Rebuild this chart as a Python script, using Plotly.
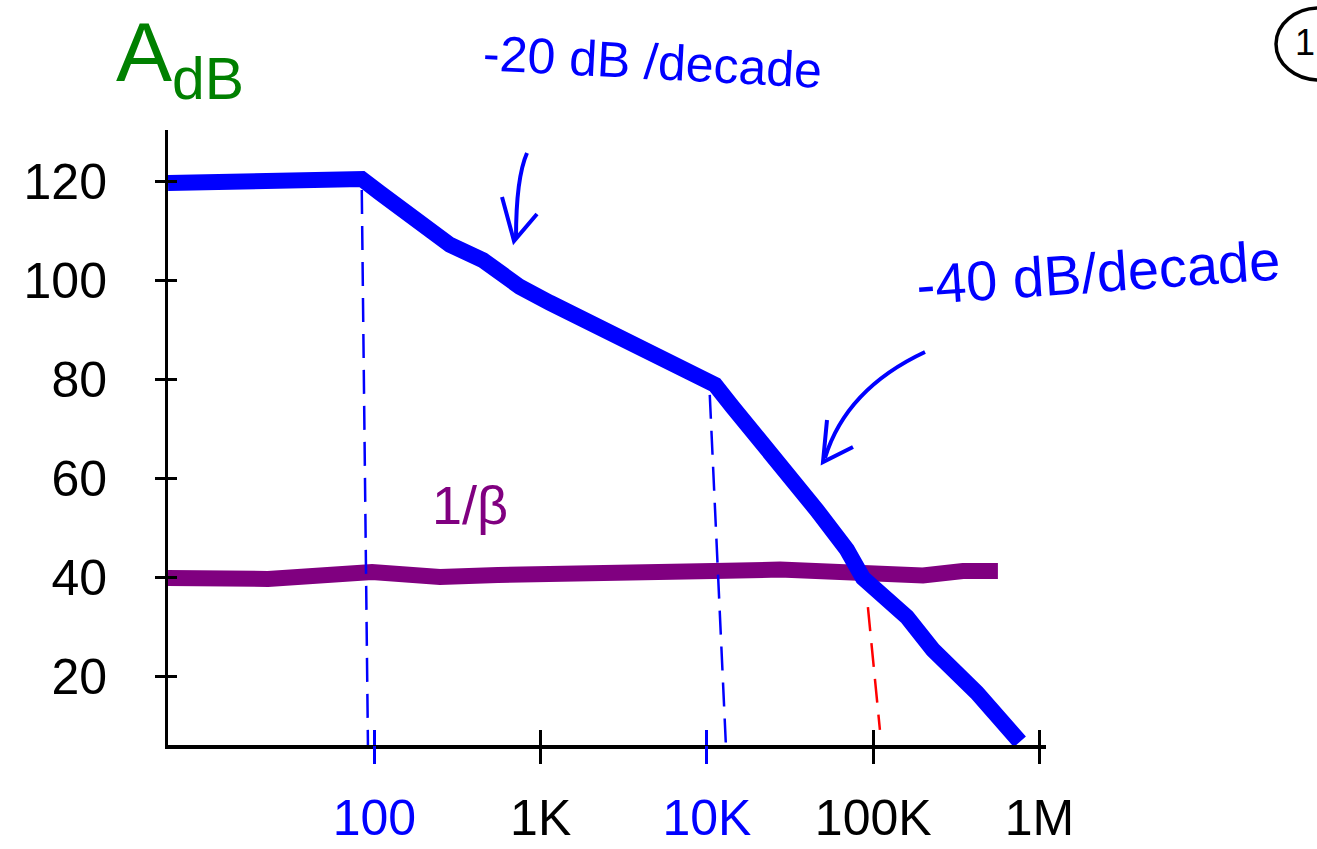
import plotly.graph_objects as go

# ---------------- data ----------------
open_loop_freq = [5.74, 23.6, 84, 108, 285, 450, 751, 1137, 2505, 4735, 7585, 11200,
                  14300, 22900, 36200, 45800, 69500, 86700, 159500, 228600, 420000, 762000]
open_loop_gain_db = [119.8, 120.4, 120.6, 117.8, 107.3, 104.2, 98.8, 95.6, 90.1, 85.5, 81.6, 79.0,
                     74.5, 66.5, 57.8, 53.7, 45.7, 40.0, 32.1, 25.5, 16.8, 6.9]

inv_beta_freq = [5.74, 22.9, 96.8, 248, 553, 1722, 2721, 10900, 27500, 69500, 173000, 199000, 346000, 562000]
inv_beta_gain_db = [40.0, 39.8, 41.2, 40.2, 40.6, 40.6, 41.4, 41.4, 41.7, 41.3, 40.7, 40.5, 41.4, 41.4]

pole1_marker_freq = [84, 91.5]
pole1_marker_gain = [118.4, 6.26]
pole2_marker_freq = [10400, 13000]
pole2_marker_gain = [77.0, 6.26]
crossover_marker_freq = [92900, 109700]
crossover_marker_gain = [34.1, 9.3]

y_tick_values = [20, 40, 60, 80, 100, 120]
x_tick_values = [100, 1000, 10000, 100000, 1000000]
x_tick_labels = ["100", "1K", "10K", "100K", "1M"]
x_tick_colors = ["#0000FF", "black", "#0000FF", "black", "black"]

# ---------------- layout constants ----------------
W, H = 1317, 849
ML, MR, MT, MB = 168, 271, 130, 104
PW, PH = W - ML - MR, H - MT - MB
XR = [0.759, 6.039]
YR = [6.26, 130.5]
FONT = "Liberation Sans"
BLUE, PURPLE, RED, GREEN = "#0000FF", "#800080", "#FF0000", "#008000"


def px(x, y):
    """pixel position -> paper coordinates"""
    return (x - ML) / PW, (H - MB - y) / PH


fig = go.Figure()

fig.add_trace(go.Scatter(x=inv_beta_freq, y=inv_beta_gain_db, mode="lines",
                         line=dict(color=PURPLE, width=16), hoverinfo="skip"))
for fx, gy, col in [(pole1_marker_freq, pole1_marker_gain, BLUE),
                    (pole2_marker_freq, pole2_marker_gain, BLUE),
                    (crossover_marker_freq, crossover_marker_gain, RED)]:
    fig.add_trace(go.Scatter(x=fx, y=gy, mode="lines",
                             line=dict(color=col, width=2.5, dash="24px,12px"), hoverinfo="skip"))
fig.add_trace(go.Scatter(x=open_loop_freq, y=open_loop_gain_db, mode="lines",
                         line=dict(color=BLUE, width=16), hoverinfo="skip"))

# invisible carriers so the overlaid tick-only axes get drawn
for xa, ya in [("x2", "y"), ("x3", "y"), ("x4", "y"), ("x5", "y"), ("x", "y2")]:
    fig.add_trace(go.Scatter(x=inv_beta_freq, y=inv_beta_gain_db, mode="lines", opacity=0,
                             line=dict(width=0), xaxis=xa, yaxis=ya, hoverinfo="skip"))

tick_text = [f"<span style='color:{c}'>{t}</span>" for t, c in zip(x_tick_labels, x_tick_colors)]
black_ticks = [v for v, c in zip(x_tick_values, x_tick_colors) if c == "black"]
blue_ticks = [v for v, c in zip(x_tick_values, x_tick_colors) if c != "black"]

common_x = dict(type="log", range=XR, showgrid=False, zeroline=False, automargin=False)
tick_only = dict(overlaying="x", anchor="y", showline=False, showticklabels=False)
fig.update_layout(
    template="none",
    width=W, height=H,
    margin=dict(l=ML, r=MR, t=MT, b=MB, pad=0),
    paper_bgcolor="white", plot_bgcolor="white",
    showlegend=False, hovermode=False,
    font=dict(family=FONT, color="black"),
    xaxis=dict(**common_x, showline=True, linecolor="black", linewidth=4,
               tickvals=x_tick_values, ticktext=tick_text, ticks="",
               tickfont=dict(size=50, family=FONT), ticklabelstandoff=26),
    xaxis2=dict(**common_x, **tick_only, tickvals=black_ticks,
                ticks="outside", ticklen=18, tickwidth=3, tickcolor="black"),
    xaxis3=dict(**common_x, **tick_only, tickvals=black_ticks,
                ticks="inside", ticklen=15, tickwidth=3, tickcolor="black"),
    xaxis4=dict(**common_x, **tick_only, tickvals=blue_ticks,
                ticks="outside", ticklen=18, tickwidth=2.5, tickcolor=BLUE),
    xaxis5=dict(**common_x, **tick_only, tickvals=blue_ticks,
                ticks="inside", ticklen=15, tickwidth=2.5, tickcolor=BLUE),
    yaxis=dict(range=YR, showgrid=False, zeroline=False, automargin=False,
               showline=True, linecolor="black", linewidth=3,
               tickvals=y_tick_values, ticks="outside", ticklen=10, tickwidth=3, tickcolor="black",
               tickfont=dict(size=50, family=FONT, color="black"), ticklabelstandoff=38),
    yaxis2=dict(range=YR, overlaying="y", anchor="x", side="left", showgrid=False, zeroline=False,
                automargin=False, showline=False, showticklabels=False, tickvals=y_tick_values,
                ticks="inside", ticklen=9, tickwidth=3, tickcolor="black"),
)

# ---------------- texts ----------------
def note(text, x, y, size, color, angle=0, xanchor="center"):
    xp, yp = px(x, y)
    fig.add_annotation(text=text, x=xp, y=yp, xref="paper", yref="paper", showarrow=False,
                       font=dict(size=size, color=color, family=FONT), textangle=angle,
                       xanchor=xanchor, yanchor="middle")

note("A<sub>dB</sub>", 114, 58, 84, GREEN, xanchor="left")
note("-20 dB /decade", 652, 62, 50, BLUE, angle=3)
note("-40 dB/decade", 1098, 272, 56, BLUE, angle=-4)
note("1/β", 470, 505, 54, PURPLE)
note("1", 1305, 42, 36, "black")

# ---------------- hand-drawn arrows & circle ----------------
def path_shape(points_cmd, color, width):
    fig.add_shape(type="path", path=points_cmd, xref="paper", yref="paper",
                  line=dict(color=color, width=width))

def P(x, y):
    a, b = px(x, y)
    return f"{a:.5f},{b:.5f}"

path_shape(f"M{P(527,153)} Q{P(516,178)} {P(516,238)}", BLUE, 4)
path_shape(f"M{P(502,197)} L{P(514,241)} L{P(537,214)}", BLUE, 4)
path_shape(f"M{P(925,352)} Q{P(846,389)} {P(825,458)}", BLUE, 4)
path_shape(f"M{P(827,420)} L{P(823,462)} L{P(853,447)}", BLUE, 4)

x0, y0 = px(1276, 80)
x1, y1 = px(1362, 8)
fig.add_shape(type="circle", xref="paper", yref="paper", x0=x0, y0=y0, x1=x1, y1=y1,
              line=dict(color="black", width=3.5))

fig.write_html("out.html", config={"displayModeBar": False},
               post_script="document.body.style.margin='0';document.body.style.padding='0';"
                           "document.body.style.overflow='hidden';")
